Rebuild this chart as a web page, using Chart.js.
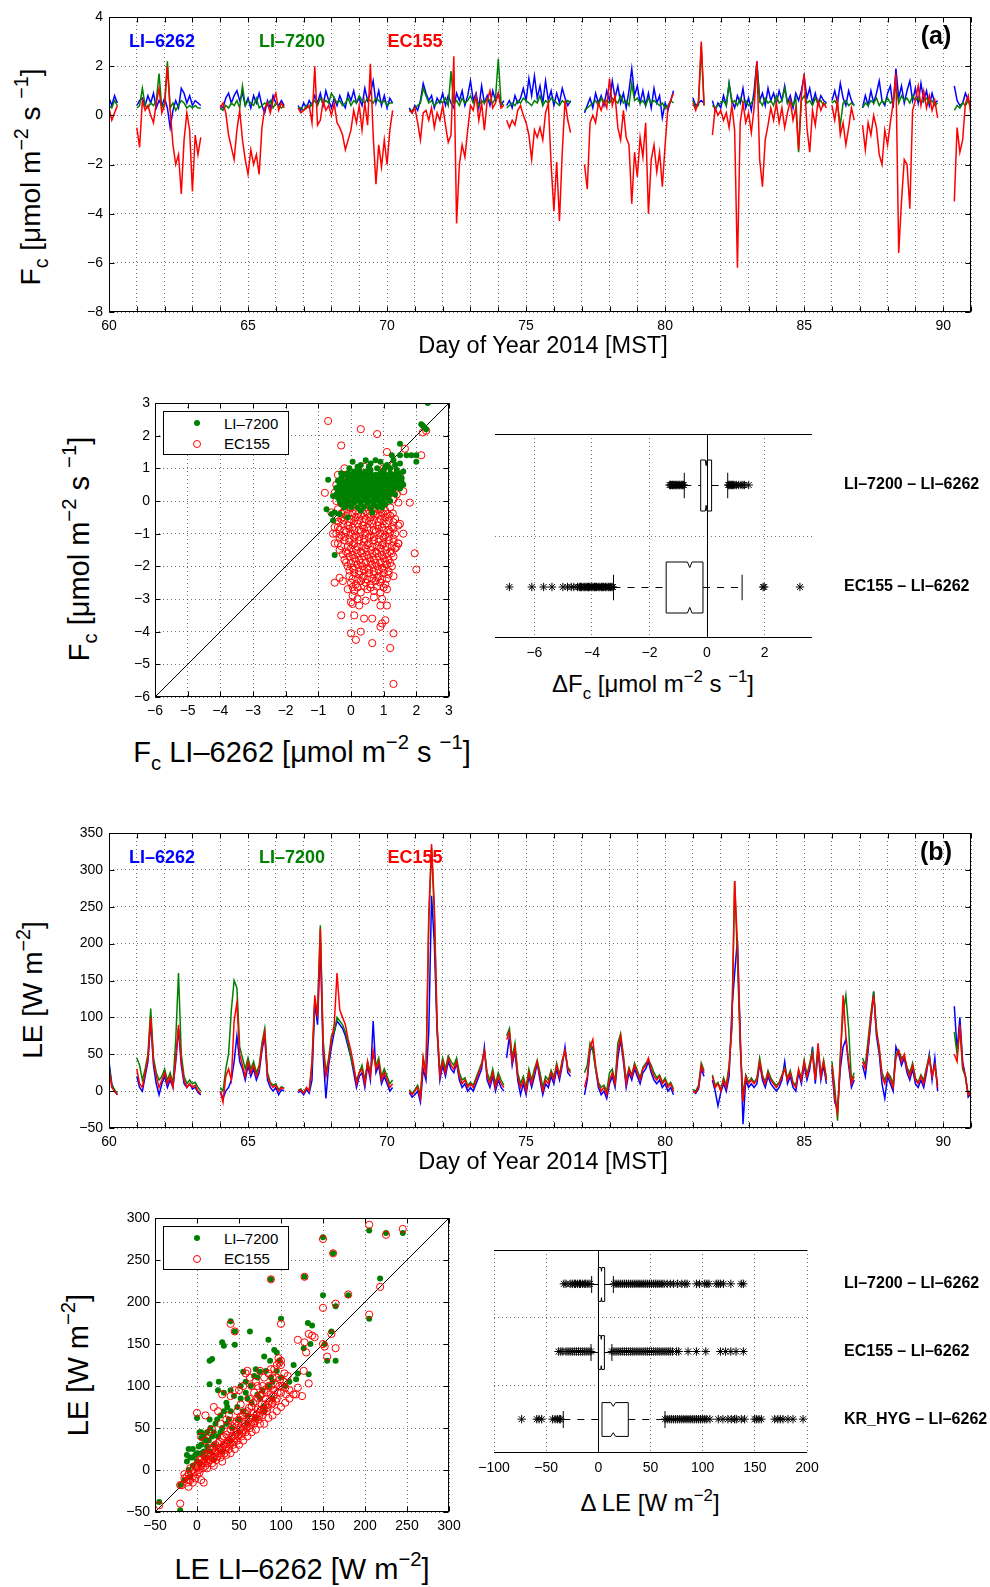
<!DOCTYPE html>
<html>
<head>
<meta charset="utf-8">
<title>Fc and LE instrument comparison</title>
<script src="https://cdn.jsdelivr.net/npm/chart.js@4.4.1/dist/chart.umd.min.js"></script>
<style>
  html, body { margin:0; padding:0; background:#fff; }
  body { position:relative; width:990px; height:1587px; overflow:hidden; font-family:"Liberation Sans", Arial, Helvetica, sans-serif; color:#000; }
  canvas { position:absolute; }
  .t { position:absolute; white-space:nowrap; line-height:1; }
  .c { transform:translate(-50%,-50%); }
  .r { transform:translate(-50%,-50%) rotate(-90deg); }
  .t sup { font-size:0.7em; vertical-align:0.62em; line-height:0; }
  .t sub { font-size:0.7em; vertical-align:-0.42em; line-height:0; }
  .leg { font-weight:bold; font-size:18px; }
  .tag { font-weight:bold; font-size:25px; }
  .lbox { position:absolute; border:1px solid #000; background:#fff; width:124px; height:42px; font-size:15px; }
  .dot { position:absolute; width:6px; height:6px; border-radius:50%; background:#008000; }
  .ring { position:absolute; width:6px; height:6px; border-radius:50%; border:1px solid #f00; }
</style>
</head>
<body>
<canvas id="fcSeries"></canvas>
<canvas id="fcScatter"></canvas>
<canvas id="fcBox"></canvas>
<canvas id="leSeries"></canvas>
<canvas id="leScatter"></canvas>
<canvas id="leBox"></canvas>

<!-- panel (a) texts -->
<div class="t c leg" style="left:162px;top:41px;color:#0000ff">LI–6262</div>
<div class="t c leg" style="left:292px;top:41px;color:#008000">LI–7200</div>
<div class="t c leg" style="left:415px;top:41px;color:#ff0000">EC155</div>
<div class="t c tag" style="left:936px;top:35px">(a)</div>
<div class="t r" style="left:31px;top:177px;font-size:28px">F<sub>c</sub> [μmol m<sup>−2</sup> s <sup>−1</sup>]</div>
<div class="t c" style="left:543px;top:346px;font-size:23.5px">Day of Year 2014 [MST]</div>

<div class="t r" style="left:79px;top:549px;font-size:29px">F<sub>c</sub> [μmol m<sup>−2</sup> s <sup>−1</sup>]</div>
<div class="t c" style="left:302px;top:752px;font-size:29px">F<sub>c</sub> LI–6262 [μmol m<sup>−2</sup> s <sup>−1</sup>]</div>
<div class="lbox" style="left:163px;top:411px">
  <span class="dot" style="left:30px;top:8px"></span><span class="t" style="left:60px;top:4px">LI–7200</span>
  <span class="ring" style="left:29px;top:28px"></span><span class="t" style="left:60px;top:24px">EC155</span>
</div>
<div class="t c" style="left:653px;top:684px;font-size:24px">ΔF<sub>c</sub> [μmol m<sup>−2</sup> s <sup>−1</sup>]</div>

<!-- panel (b) texts -->
<div class="t c leg" style="left:162px;top:857px;color:#0000ff">LI–6262</div>
<div class="t c leg" style="left:292px;top:857px;color:#008000">LI–7200</div>
<div class="t c leg" style="left:415px;top:857px;color:#ff0000">EC155</div>
<div class="t c tag" style="left:936px;top:851px">(b)</div>
<div class="t r" style="left:33px;top:990px;font-size:28px">LE [W m<sup>−2</sup>]</div>
<div class="t c" style="left:543px;top:1162px;font-size:23.5px">Day of Year 2014 [MST]</div>

<div class="t r" style="left:78px;top:1365px;font-size:29px">LE [W m<sup>−2</sup>]</div>
<div class="t c" style="left:302px;top:1569px;font-size:29px">LE LI–6262 [W m<sup>−2</sup>]</div>
<div class="lbox" style="left:163px;top:1226px">
  <span class="dot" style="left:30px;top:8px"></span><span class="t" style="left:60px;top:4px">LI–7200</span>
  <span class="ring" style="left:29px;top:28px"></span><span class="t" style="left:60px;top:24px">EC155</span>
</div>
<div class="t c" style="left:650px;top:1503px;font-size:24px">Δ LE [W m<sup>−2</sup>]</div>

<script>
/* ======= Time series data (samples every 0.1 day inside each data segment) ======= */
const SAMPLE_STEP = 0.1;
const segStart = [60.0, 61.0, 64.0, 66.8, 70.8, 74.3, 77.1, 81.0, 81.7, 86.0, 87.1, 90.4];
const dayTicks = [60,61,62,63,64,65,66,67,68,69,70,71,72,73,74,75,76,77,78,79,80,81,82,83,84,85,86,87,88,89,90,91];

// Fc [umol m-2 s-1]
const fcEC155 = [
  [0.3,-0.2,0.1,0.4],
  [-0.5,-1.3,0.6,0.2,0.4,0.0,-0.3,0.5,1.1,0.1,0.4,2.0,0.2,-1.2,-2.0,-1.6,-3.2,-1.0,0.1,-0.6,-3.1,-0.8,-1.6,-0.9],
  [0.3,0.5,0.1,-0.8,-1.3,-1.8,-0.6,0.2,-1.0,-1.8,-2.4,-1.4,-2.0,-1.6,-2.4,-0.5,0.3,0.5,0.1,0.6,0.9,0.2,0.5,0.3],
  [0.3,0.1,0.2,0.3,0.4,-0.3,2.0,-0.4,-0.2,0.6,0.2,0.4,0.0,0.5,-0.3,-0.5,-0.8,-1.4,-1.0,-0.6,0.2,-0.3,0.4,-0.6,0.5,-0.4,2.1,-0.8,-2.8,-1.2,-2.1,-1.0,-2.0,-0.6,0.2],
  [0.2,0.1,0.3,-0.3,-1.0,0.1,0.2,-0.2,0.3,-0.5,0.1,-0.2,0.4,-0.4,-1.1,-0.8,2.4,-4.4,-2.0,-1.2,-1.7,-0.6,0.4,0.2,0.8,-0.2,0.5,-0.6,0.6,1.0,0.3,0.5,0.9,0.3,0.4],
  [-0.2,-0.5,-0.2,-0.4,0.2,0.4,0.0,-0.3,-0.8,-1.8,-0.6,-0.9,-0.5,-1.0,0.1,0.5,-2.0,-3.9,-1.9,-4.3,-1.5,0.6,-0.2,-0.7],
  [-2.0,-3.0,-0.3,0.0,-0.3,0.5,0.2,0.6,0.3,1.5,0.4,0.8,-0.5,-1.0,0.2,-0.9,-1.2,-3.6,-1.5,-2.5,-0.9,-1.7,-0.3,-4.0,-1.8,-1.2,-2.3,-1.5,-2.9,-1.2,0.3,0.6,0.9],
  [0.5,0.2,0.6,3.0,0.4],
  [-0.8,0.3,0.0,0.2,-0.2,0.1,-0.5,0.4,-0.6,-6.2,-0.3,0.5,-0.3,0.1,-0.7,0.3,2.2,-1.8,-2.9,-1.0,-0.4,0.3,-0.2,0.5,-0.3,0.3,-0.5,0.1,0.6,-0.2,0.3,-1.4,0.8,1.7,-0.5,-1.5,0.2,-0.4,0.6,0.2,0.5,0.3],
  [0.4,-0.2,0.6,-0.8,-0.3,-1.2,-0.5,0.3,-0.2],
  [-0.4,-1.4,-0.3,-0.8,0.0,-0.5,-1.6,-2.0,-0.6,-1.2,-0.3,0.5,1.7,-5.6,-3.5,-1.8,-2.0,-3.8,0.2,0.6,1.2,0.4,1.0,0.3,0.8,0.2,0.6,-0.1],
  [-3.5,-0.5,-1.5,-1.0,0.5,0.8,0.0]
];
const fcLI6262 = [
  [0.7,0.4,0.8,0.5],
  [0.4,0.6,0.7,0.4,0.8,0.5,0.9,0.3,0.6,0.4,0.7,0.3,-0.5,0.2,0.6,0.3,1.1,0.9,0.5,0.8,0.4,0.6,0.5,0.4],
  [0.4,0.3,0.7,0.9,0.5,0.8,1.0,0.6,0.9,0.4,0.7,0.3,0.8,0.5,0.9,0.4,0.1,0.6,0.3,0.8,0.5,0.4,0.6,0.4],
  [0.4,0.2,0.5,0.3,0.6,0.4,0.8,0.5,0.9,0.4,1.0,0.6,0.3,0.7,0.4,0.8,0.5,0.3,0.9,0.6,1.0,0.5,0.7,0.4,1.1,0.6,0.9,1.4,0.5,1.0,0.4,0.8,0.3,0.7,0.5],
  [0.3,0.1,0.4,0.2,0.6,1.3,0.9,0.6,0.8,0.3,0.7,0.5,0.9,0.4,0.8,0.5,0.3,0.9,0.6,1.0,0.4,0.8,1.4,0.6,0.9,0.3,1.2,0.5,0.8,0.4,1.0,0.6,0.9,0.4,0.6],
  [0.4,0.6,0.3,0.8,0.5,0.7,1.1,0.6,1.5,0.8,1.6,0.7,1.2,0.5,1.4,0.6,1.0,0.4,0.9,0.5,1.1,0.7,0.4,0.6],
  [0.1,0.4,0.7,0.3,0.9,0.5,0.8,0.4,1.0,0.6,1.4,0.7,1.2,0.5,0.9,0.3,1.0,1.9,0.8,1.2,0.5,1.0,0.4,0.9,0.3,1.1,0.5,0.8,-0.1,0.5,0.2,0.6,1.0],
  [0.7,0.4,0.5,0.6,0.5],
  [0.6,0.2,0.5,0.3,0.8,0.4,1.3,0.6,0.3,0.8,0.5,1.1,0.3,0.7,0.2,1.0,2.2,0.6,0.9,0.4,1.1,0.6,0.9,0.5,1.0,0.6,1.2,0.5,0.8,0.3,0.9,0.6,1.0,1.6,0.7,1.1,0.5,0.9,0.4,0.8,0.6,0.5],
  [0.6,1.0,0.5,1.3,0.7,0.4,1.0,0.6,0.4],
  [0.3,0.8,0.4,1.0,0.5,0.9,1.4,0.6,0.4,0.9,1.2,0.3,1.9,0.7,1.2,0.5,1.0,1.4,0.6,1.1,0.5,1.3,0.6,1.0,0.4,0.9,0.5,0.6],
  [1.2,0.6,0.4,0.5,0.9,0.6,0.5]
];
const fcLI7200 = [
  [0.4,0.3,0.6,0.4],
  [0.3,0.4,1.1,0.4,0.3,0.5,0.4,0.6,1.7,0.3,0.5,2.2,0.3,0.5,0.2,0.4,0.6,0.5,0.3,0.4,0.3,0.4,0.3,0.3],
  [0.3,0.2,0.4,0.3,0.5,0.4,0.6,0.3,1.2,0.4,0.6,0.5,0.4,0.7,0.3,0.4,0.5,0.4,0.6,0.3,0.5,0.4,0.3,0.4],
  [0.3,0.3,0.2,0.4,0.3,0.5,0.6,0.4,0.7,0.5,0.6,0.5,0.9,0.7,0.5,0.6,0.4,0.5,0.7,0.4,0.6,0.5,0.8,0.6,0.5,0.7,0.6,0.5,0.7,0.6,0.5,0.6,0.4,0.5,0.5],
  [0.2,0.2,0.3,0.4,0.5,1.1,0.8,0.5,0.6,0.4,0.5,0.6,0.5,0.7,0.4,1.8,0.5,0.6,0.4,0.7,0.5,0.6,0.8,0.5,0.7,0.4,0.6,0.5,0.7,0.6,0.5,0.7,2.3,0.5,0.4],
  [0.3,0.4,0.5,0.4,0.6,0.5,0.7,0.6,0.5,0.4,0.6,0.5,0.8,0.4,0.6,0.5,0.7,0.6,0.5,0.4,0.6,0.5,0.6,0.5],
  [0.2,0.3,0.4,0.5,0.6,0.4,0.7,0.5,0.6,0.5,0.7,0.6,0.5,0.8,0.5,0.6,0.4,1.3,0.6,0.7,0.5,0.6,0.4,0.7,0.5,0.6,0.5,0.4,0.5,0.3,0.4,0.6,0.5],
  [0.6,0.3,0.4,2.8,0.4],
  [0.4,0.3,0.4,0.5,0.6,0.4,1.3,0.5,0.6,0.4,0.7,0.5,0.6,0.4,0.5,0.7,2.1,0.6,0.4,0.7,0.5,0.6,0.4,0.8,0.5,0.6,1.1,0.5,0.6,0.4,0.7,-1.5,0.6,0.8,0.5,0.6,0.4,0.7,0.5,0.6,0.4,0.5],
  [0.5,0.6,0.4,-0.4,0.5,0.6,0.4,0.5,0.4],
  [0.3,0.5,0.4,0.6,0.5,0.7,0.4,0.6,0.5,0.7,0.5,0.6,1.2,0.5,0.8,0.6,0.7,0.5,0.8,0.6,0.7,0.5,0.6,0.7,0.5,0.6,0.4,0.5],
  [0.2,0.4,0.3,0.5,0.4,0.6,0.3]
];

// LE [W m-2]
const leEC155 = [
  [30,5,0,-5],
  [30,10,5,25,45,100,40,20,5,15,25,10,20,5,45,90,40,15,5,10,5,8,0,-3],
  [0,-15,20,30,15,95,120,50,35,20,40,25,35,20,30,60,80,20,10,5,8,0,5,3],
  [0,2,-3,5,0,40,130,100,220,60,20,40,70,90,160,110,100,90,70,55,35,10,25,30,10,40,20,55,30,40,15,25,15,5,10],
  [0,-5,0,5,-10,45,20,240,335,250,90,20,40,25,45,35,30,40,20,10,15,5,10,5,15,25,35,55,20,10,25,5,20,10,5],
  [70,80,40,60,20,5,15,0,25,10,25,40,20,0,15,10,25,15,35,20,40,55,30,25],
  [5,20,60,70,35,10,0,5,-5,15,25,10,55,75,45,10,30,20,35,25,15,30,35,45,30,20,15,20,10,15,5,10,0],
  [0,-2,5,35,25],
  [20,5,10,0,15,5,30,90,285,200,70,-15,20,10,15,10,15,40,20,10,25,15,10,5,10,20,30,15,25,10,5,30,15,40,20,35,50,15,65,20,40,15],
  [35,-10,-30,40,130,75,40,10,20],
  [40,30,60,100,130,80,60,20,10,25,15,5,45,55,40,50,30,20,35,15,10,20,10,30,45,20,35,5],
  [50,40,90,35,20,-5,0]
];
const leLI6262 = [
  [40,10,0,-5],
  [20,5,0,20,40,95,35,10,-5,10,20,5,15,5,40,85,35,10,5,10,3,5,-2,-5],
  [0,-10,0,5,15,40,75,40,30,15,35,20,30,15,25,55,75,15,5,0,5,-5,2,0],
  [-2,0,-5,2,-3,15,120,90,200,50,-10,35,60,80,95,90,85,75,60,45,25,5,20,25,5,35,15,95,25,35,10,20,10,0,5],
  [-2,-8,-5,0,-15,30,15,80,265,200,80,15,35,20,40,30,25,38,15,5,10,0,5,0,10,20,30,60,15,5,20,0,15,5,0],
  [45,75,35,55,15,-5,10,-5,20,5,20,38,15,-5,10,5,20,10,30,15,35,60,25,20],
  [-5,15,55,60,30,5,-5,0,-10,10,20,5,45,70,40,5,25,15,30,20,10,25,30,40,25,15,10,15,5,10,0,5,-5],
  [0,-3,3,30,20],
  [15,0,-20,-2,10,0,20,110,160,205,80,-45,15,5,10,5,10,38,15,5,20,10,5,0,5,15,40,10,20,5,0,25,10,35,15,30,60,10,55,15,35,10],
  [30,-15,-25,30,60,70,35,5,15],
  [35,20,55,95,135,75,50,10,-10,20,10,0,60,50,35,45,25,15,30,10,5,15,5,25,50,15,45,0],
  [115,55,100,40,20,-8,-3]
];
const leLI7200 = [
  [35,8,2,-3],
  [45,35,15,30,50,112,45,25,15,20,30,15,25,10,70,160,50,20,10,15,10,12,5,0],
  [5,0,30,50,110,150,140,60,45,30,45,30,40,25,35,65,85,25,12,8,10,2,6,4],
  [1,3,-2,4,1,35,120,110,225,70,25,45,75,80,100,95,90,80,65,45,30,15,25,35,15,40,25,50,35,45,20,30,20,10,15],
  [2,-3,2,8,-5,45,25,230,330,240,85,25,45,30,48,40,35,45,25,15,18,8,12,8,18,28,38,55,25,15,30,10,25,15,8],
  [75,85,45,65,25,10,20,5,30,15,30,42,25,5,20,15,28,18,38,22,42,55,32,28],
  [25,35,65,55,30,12,5,8,0,25,30,12,65,78,48,15,32,22,38,28,18,32,38,42,35,25,18,22,12,18,8,12,3],
  [2,0,8,38,28],
  [22,8,12,2,18,8,35,85,285,180,60,-5,22,12,18,12,18,45,22,12,28,18,12,8,12,22,32,18,28,12,8,28,18,42,22,38,55,18,60,22,42,18],
  [40,5,-40,50,105,130,85,15,25],
  [45,35,70,105,135,85,55,25,15,25,20,10,50,55,45,48,32,25,38,18,12,22,15,32,48,22,35,8],
  [80,50,85,30,20,-5,2]
];

/* ======= Scatter data: [LI-6262, other] ======= */
const fcScatterTicks = [-6,-5,-4,-3,-2,-1,0,1,2,3];
const fcScatter7200 = [
  [0.3,1.1],[0.6,1.15],[0.9,1.2],[1.1,1.1],[0.75,1.25],[0.45,1.25],[1.3,1.25],[1.25,1.4],
  [-0.05,1.0],[0.2,1.05],[0.55,1.05],[1.05,1.05],[1.35,1.1],
  [-0.1,0.85],[0.1,0.9],[0.25,0.95],[0.45,0.9],[0.6,0.95],[0.8,1.0],[1.0,0.95],[1.2,1.0],[1.4,0.95],[-0.3,0.85],
  [-0.2,0.8],[0.0,0.82],[0.15,0.8],[0.3,0.85],[0.45,0.8],[0.6,0.83],[0.75,0.8],[0.9,0.85],[1.05,0.8],[1.2,0.85],[1.35,0.82],[1.5,0.85],
  [-0.3,0.7],[-0.1,0.7],[0.05,0.75],[0.2,0.7],[0.35,0.75],[0.5,0.7],[0.65,0.75],[0.8,0.7],[0.95,0.75],[1.1,0.7],[1.25,0.75],[1.4,0.7],[1.55,0.7],[1.6,0.5],
  [-0.4,0.62],[-0.25,0.6],[-0.1,0.62],[0.05,0.6],[0.2,0.62],[0.35,0.6],[0.5,0.62],[0.65,0.6],[0.8,0.62],[0.95,0.6],[1.1,0.62],[1.25,0.6],[1.4,0.62],[1.55,0.58],
  [-0.35,0.5],[-0.2,0.55],[-0.05,0.5],[0.1,0.55],[0.25,0.5],[0.4,0.55],[0.55,0.5],[0.7,0.55],[0.85,0.5],[1.0,0.55],[1.15,0.5],[1.3,0.55],[1.45,0.45],
  [-0.45,0.4],[-0.3,0.42],[-0.15,0.4],[0.0,0.42],[0.15,0.4],[0.3,0.42],[0.45,0.4],[0.6,0.42],[0.75,0.4],[0.9,0.42],[1.05,0.4],[1.2,0.42],[1.35,0.4],[1.5,0.38],
  [-0.4,0.3],[-0.25,0.3],[-0.1,0.35],[0.05,0.3],[0.2,0.35],[0.35,0.3],[0.5,0.35],[0.65,0.3],[0.8,0.35],[0.95,0.3],[1.1,0.35],[1.25,0.3],
  [-0.45,0.2],[-0.3,0.22],[-0.15,0.2],[0.0,0.22],[0.15,0.2],[0.3,0.22],[0.45,0.2],[0.6,0.22],[0.75,0.2],[0.9,0.22],[1.05,0.2],[1.2,0.22],[1.35,0.2],
  [-0.4,0.1],[-0.25,0.15],[-0.1,0.1],[0.05,0.15],[0.2,0.1],[0.35,0.15],[0.5,0.1],[0.65,0.15],[0.8,0.1],[0.95,0.15],[1.1,0.1],[1.2,0.0],
  [-0.35,0.0],[-0.2,0.02],[-0.05,0.0],[0.1,0.02],[0.25,0.0],[0.4,0.02],[0.55,0.0],[0.7,0.02],[0.85,0.0],[1.0,0.02],[1.15,0.08],
  [-0.3,-0.1],[-0.1,-0.1],[0.1,-0.05],[0.3,-0.1],[0.5,-0.05],[0.7,-0.1],[0.9,-0.05],[1.05,-0.1],
  [-0.2,-0.2],[0.0,-0.18],[0.2,-0.2],[0.4,-0.18],[0.6,-0.2],[0.8,-0.18],[0.95,-0.2],
  [2.35,3.0],[2.15,2.35],[2.2,2.3],[2.3,2.2],[2.25,2.25],[1.5,1.75],[1.7,1.4],[1.85,1.4],[2.0,1.4],[2.0,1.2],
  [0.05,1.2],[1.5,1.4],[-0.7,0.65],[-0.75,-0.25],[-0.55,-0.6],[-0.5,-1.65],[0.3,-0.3],[0.65,-0.35],[0.9,-0.15],
  [-0.35,-0.4],[-0.1,-0.5],[-0.5,-0.35],[-0.6,-0.4],[-0.55,0.15],[1.6,0.9],[1.5,1.15]
];
const fcScatterEC155 = [
  [-0.2,1.0],[0.4,1.05],[1.0,1.0],[1.3,1.1],[-0.4,0.8],[1.5,0.75],[-0.45,0.5],[1.5,0.45],[1.6,0.3],[-0.5,0.25],[1.4,0.2],
  [-0.45,0.0],[-0.3,-0.05],[1.3,0.05],[1.45,-0.05],[1.1,1.5],[1.65,1.6],[-0.2,0.8],
  [-0.4,-0.25],[-0.2,-0.3],[0.0,-0.2],[0.15,-0.3],[0.3,-0.25],[0.45,-0.3],[0.6,-0.2],[0.75,-0.3],[0.9,-0.25],[1.05,-0.3],[1.2,-0.2],
  [-0.3,-0.38],[-0.1,-0.4],[0.05,-0.38],[0.22,-0.4],[0.38,-0.38],[0.52,-0.4],[0.68,-0.38],[0.82,-0.4],[0.98,-0.38],[1.12,-0.4],[1.28,-0.38],
  [-0.45,-0.5],[-0.3,-0.55],[-0.15,-0.45],[0.0,-0.55],[0.15,-0.5],[0.3,-0.45],[0.45,-0.55],[0.6,-0.5],[0.75,-0.45],[0.9,-0.55],[1.05,-0.5],[1.2,-0.45],[1.35,-0.55],
  [-0.38,-0.63],[-0.22,-0.6],[-0.05,-0.65],[0.1,-0.62],[0.25,-0.6],[0.4,-0.65],[0.55,-0.62],[0.7,-0.6],[0.85,-0.65],[1.0,-0.62],[1.15,-0.6],[1.3,-0.65],
  [-0.4,-0.8],[-0.25,-0.7],[-0.1,-0.75],[0.05,-0.8],[0.2,-0.7],[0.35,-0.75],[0.5,-0.8],[0.65,-0.7],[0.8,-0.75],[0.95,-0.8],[1.1,-0.7],[1.25,-0.8],[1.45,-0.75],
  [-0.35,-0.88],[-0.2,-0.9],[-0.05,-0.85],[0.1,-0.9],[0.25,-0.88],[0.4,-0.85],[0.55,-0.9],[0.7,-0.88],[0.85,-0.85],[1.0,-0.9],[1.15,-0.88],[1.3,-0.85],
  [-0.45,-1.0],[-0.3,-1.05],[-0.15,-0.95],[0.0,-1.0],[0.15,-1.05],[0.3,-0.95],[0.45,-1.0],[0.6,-1.05],[0.75,-0.95],[0.9,-1.0],[1.05,-1.05],[1.2,-0.95],[1.35,-1.0],
  [-0.35,-1.13],[-0.2,-1.1],[-0.05,-1.15],[0.1,-1.12],[0.25,-1.1],[0.4,-1.15],[0.55,-1.12],[0.7,-1.1],[0.85,-1.15],[1.0,-1.12],[1.15,-1.1],[1.3,-1.15],
  [-0.4,-1.3],[-0.2,-1.2],[-0.05,-1.25],[0.1,-1.3],[0.25,-1.2],[0.4,-1.25],[0.55,-1.3],[0.7,-1.2],[0.85,-1.25],[1.0,-1.3],[1.15,-1.2],[1.3,-1.25],[1.45,-1.3],
  [-0.3,-1.38],[-0.1,-1.4],[0.05,-1.35],[0.2,-1.4],[0.35,-1.38],[0.5,-1.35],[0.65,-1.4],[0.8,-1.38],[0.95,-1.35],[1.1,-1.4],[1.25,-1.38],[1.4,-1.4],
  [-0.35,-1.5],[-0.15,-1.55],[0.0,-1.45],[0.15,-1.5],[0.3,-1.55],[0.45,-1.45],[0.6,-1.5],[0.75,-1.55],[0.9,-1.45],[1.05,-1.5],[1.2,-1.55],[1.35,-1.45],
  [-0.25,-1.63],[-0.1,-1.6],[0.05,-1.65],[0.2,-1.62],[0.35,-1.6],[0.5,-1.65],[0.65,-1.62],[0.8,-1.6],[0.95,-1.65],[1.1,-1.62],[1.25,-1.6],
  [-0.2,-1.8],[-0.05,-1.7],[0.1,-1.75],[0.25,-1.8],[0.4,-1.7],[0.55,-1.75],[0.7,-1.8],[0.85,-1.7],[1.0,-1.75],[1.15,-1.8],[1.3,-1.7],
  [-0.15,-1.88],[0.0,-1.9],[0.15,-1.85],[0.3,-1.9],[0.45,-1.88],[0.6,-1.85],[0.75,-1.9],[0.9,-1.88],[1.05,-1.85],[1.2,-1.9],
  [-0.1,-2.0],[0.05,-2.05],[0.2,-1.95],[0.35,-2.0],[0.5,-2.05],[0.65,-1.95],[0.8,-2.0],[0.95,-2.05],[1.1,-1.95],[1.25,-2.0],
  [-0.05,-2.13],[0.1,-2.1],[0.25,-2.15],[0.4,-2.12],[0.55,-2.1],[0.7,-2.15],[0.85,-2.12],[1.0,-2.1],[1.15,-2.15],
  [-0.05,-2.3],[0.1,-2.2],[0.25,-2.25],[0.4,-2.3],[0.55,-2.2],[0.7,-2.25],[0.85,-2.3],[1.0,-2.2],[1.15,-2.25],
  [0.05,-2.38],[0.2,-2.4],[0.35,-2.35],[0.5,-2.4],[0.65,-2.38],[0.8,-2.35],[0.95,-2.4],[1.1,-2.38],
  [0.0,-2.5],[0.15,-2.55],[0.3,-2.45],[0.45,-2.5],[0.6,-2.55],[0.75,-2.45],[0.9,-2.5],[1.05,-2.55],
  [0.05,-2.63],[0.2,-2.65],[0.4,-2.6],[0.6,-2.65],[0.8,-2.62],[1.0,-2.65],
  [0.1,-2.75],[0.3,-2.8],[0.5,-2.7],[0.7,-2.75],[0.9,-2.8],[1.1,-2.7],[-0.1,-2.7],[0.05,-2.9],[0.25,-3.2],
  [0.2,-3.0],[0.45,-3.05],[0.7,-2.95],[0.95,-3.0],
  [-0.7,2.45],[0.3,2.2],[0.8,2.05],[-0.3,1.7],[2.2,2.1],[2.3,2.15],[2.15,1.4],[1.8,-0.05],[-0.8,0.25],
  [-0.5,-0.8],[-0.5,-1.3],[-0.55,-1.0],[-0.5,-2.5],[1.95,-1.6],[2.0,-2.1],[1.3,-2.3],[1.5,-0.7],[1.45,-1.3],[1.6,-1.0],[-0.6,-0.35],
  [-0.3,-3.5],[0.1,-3.5],[0.4,-3.6],[0.65,-3.6],[0.95,-3.75],[1.05,-3.65],[1.3,-4.05],[0.0,-4.05],[0.3,-4.0],[0.15,-4.25],
  [0.65,-4.35],[1.2,-4.5],[1.3,-5.6],[0.9,-3.85],[0.9,-3.2],[1.1,-3.2],[-0.35,-2.35],[-0.25,-2.45],[0.0,-3.1],[0.05,-3.15]
];

const leScatterTicks = [-50,0,50,100,150,200,250,300];
const leScatter7200 = [
  [-45,-38],[-20,-48],[-20,-18],[-15,-12],[-10,0],[-8,-8],[-5,5],[-5,15],[-10,25],[-12,18],[-5,25],[0,10],[0,62],[3,8],
  [5,20],[5,45],[5,38],[8,40],[10,35],[10,15],[12,28],[15,130],[18,132],[15,102],[26,105],[15,60],[15,22],[18,40],
  [20,30],[22,55],[25,40],[25,95],[28,45],[30,50],[32,148],[30,152],[32,92],[35,55],[35,80],[38,60],[40,177],[40,95],
  [40,70],[42,50],[45,165],[45,149],[48,75],[50,60],[52,85],[55,117],[55,70],[58,105],[60,85],[60,65],[63,165],[65,80],
  [68,112],[70,120],[72,90],[75,117],[75,85],[78,95],[80,135],[80,70],[85,155],[85,100],[87,130],[88,227],[90,105],
  [92,143],[95,140],[98,130],[100,180],[100,110],[105,100],[110,105],[115,125],[118,108],[120,115],[127,145],[128,230],
  [132,175],[133,114],[135,150],[137,172],[150,277],[150,208],[152,150],[155,130],[160,165],[162,258],[165,195],[165,130],
  [180,208],[205,285],[205,180],[218,228],[225,282],[245,282],[20,12],[30,22],[40,35],[50,45],[60,55],[70,62],[80,75],[90,85],
  [-2,18],[2,28],[5,30],[8,22],[12,45],[14,35],[16,50],[20,45],[24,60],[28,65],[32,70],[36,75],[44,88],[52,100],[58,92],
  [64,100],[72,110],[82,118],[88,110],[95,118],[0,20],[3,45],[-8,15],[-12,10]
];
const leScatterEC155 = [
  [-18,-18],[-15,-10],[-12,-15],[-10,-5],[-8,-12],[-5,0],[-5,-8],[-2,5],[0,-5],[0,3],[2,8],[3,-3],[5,5],[5,12],[7,2],
  [8,10],[10,15],[10,5],[12,20],[13,8],[15,12],[15,25],[17,18],[18,8],[20,15],[20,28],[22,22],[23,12],[25,20],[25,32],
  [27,26],[28,15],[30,24],[30,38],[32,30],[33,20],[35,28],[35,42],[37,35],[38,25],[40,33],[40,48],[42,40],[43,30],
  [45,38],[45,55],[47,45],[48,35],[50,42],[50,60],[52,50],[53,40],[55,48],[55,65],[57,55],[58,45],[60,52],[60,70],
  [62,62],[63,50],[65,57],[65,75],[67,68],[68,55],[70,62],[70,82],[72,72],[73,60],[75,68],[75,88],[77,78],[78,65],
  [80,72],[80,95],[82,85],[83,70],[85,78],[85,100],[88,90],[90,80],[92,95],[95,85],[95,110],[98,100],[100,92],[100,125],
  [103,105],[105,98],[108,112],[110,95],
  [-15,-5],[-12,-8],[-10,-12],[-8,2],[-3,-3],[-2,-10],[2,0],[3,12],[6,8],[8,18],[11,10],[12,2],[14,18],[16,12],[18,25],
  [19,14],[21,20],[22,30],[24,16],[26,24],[27,34],[29,20],[31,28],[32,40],[34,24],[36,32],[36,46],[39,30],[41,38],[42,52],
  [44,34],[46,42],[47,58],[49,40],[51,48],[52,64],[54,44],[56,52],[57,68],[59,50],[61,58],[62,74],[64,54],[66,62],[67,80],
  [69,58],[71,66],[72,86],[74,64],[76,72],[77,90],[79,70],[81,78],[83,92],[84,74],[86,82],[88,100],[89,78],[91,88],[93,102],
  [94,82],[96,92],[99,108],[102,100],[104,115],[106,90],
  [0,68],[5,40],[10,35],[15,45],[20,75],[10,65],[25,70],[30,90],[40,88],[45,95],[50,95],[55,100],[60,118],[58,115],
  [63,110],[65,100],[70,105],[75,118],[80,110],[85,115],[88,120],[90,110],[92,120],[95,125],[97,133],[100,130],[98,128],
  [42,58],[38,65],[18,48],[28,55],[35,60],[48,70],[52,78],[62,85],[68,92],[72,100],[78,100],
  [20,5],[30,10],[40,20],[50,30],[60,40],[70,48],[80,55],[90,65],[100,75],[110,85],[-5,-15],[-10,-20],[5,-12],[8,-15],
  [35,18],[45,25],[55,35],[65,45],[75,55],[85,62],[95,70],[105,80],[115,90],
  [-45,-42],[-20,-40],[-20,-18],[205,292],[225,280],[245,287],[150,275],[162,258],[128,230],[88,227],[218,218],[150,193],
  [180,209],[165,198],[205,185],[40,174],[45,165],[100,174],[133,162],[137,160],[140,158],[120,155],[128,152],[130,140],
  [152,147],[160,162],[165,145],[155,135],[133,103],[127,118],[120,98],[125,88],[118,90],[150,150]
];

/* ======= Box plot statistics ======= */
const fcBoxTicks = [-6,-4,-2,0,2];
const fcBoxNames = ['LI–7200 – LI–6262', 'EC155 – LI–6262'];
const fcBoxQ1 = [-0.22, -1.42];
const fcBoxMed = [-0.03, -0.6];
const fcBoxQ3 = [0.16, -0.14];
const fcNotchLo = [-0.06, -0.68];
const fcNotchHi = [0.0, -0.52];
const fcWhiskLo = [-0.79, -3.25];
const fcWhiskHi = [0.72, 1.22];
const fcOutliers = [
  [-1.3,-1.27,-1.24,-1.2,-1.17,-1.14,-1.1,-1.07,-1.04,-1.0,-0.97,-0.94,-0.9,-0.87,-0.84,-0.81,
   0.74,0.77,0.8,0.83,0.86,0.89,0.93,0.97,1.02,1.1,1.18,1.25,1.3,1.45],
  [-6.87,-6.09,-5.68,-5.39,-5.01,-4.85,-4.72,-4.63,-4.5,-4.44,-4.4,-4.36,-4.31,-4.27,-4.24,-4.2,-4.15,-4.12,-4.08,
   -4.03,-4.0,-3.96,-3.91,-3.88,-3.84,-3.79,-3.76,-3.72,-3.67,-3.64,-3.6,-3.55,-3.52,-3.48,-3.43,-3.4,-3.36,-3.31,-3.27,
   1.95,1.99,3.23]
];

const leBoxTicks = [-100,-50,0,50,100,150,200];
const leBoxNames = ['LI–7200 – LI–6262', 'EC155 – LI–6262', 'KR_HYG – LI–6262'];
const leBoxQ1 = [0, 0, 3.5];
const leBoxMed = [3, 2.8, 14.3];
const leBoxQ3 = [6.1, 5.8, 28.7];
const leNotchLo = [2.6, 2.4, 12];
const leNotchHi = [3.4, 3.2, 16.5];
const leWhiskLo = [-6.4, -7, -33.6];
const leWhiskHi = [14.4, 13, 63.9];
const leOutliers = [
  [-33,-31,-27,-25,-23,-22,-20,-18,-17,-15,-13,-12,-10,-8,
   15,17,19,21,23,25,27,29,31,33,35,37,39,41,43,45,47,49,51,53,55,57,59,61,63,66,69,72,
   76,80,83,85,94,97,102,104,106,113,115,117,120,127,137,139],
  [-38,-36,-34,-31,-29,-27,-25,-23,-21,-19,-17,-15,-13,-11,-9,-7,
   13,15,17,19,21,23,25,27,29,31,33,35,37,39,41,43,45,47,49,51,53,55,57,59,61,63,65,67,69,71,
   75,77,86,94,103,117,122,127,132,139],
  [-73.5,-59,-56.8,-54.3,-43.8,-41.5,-39.3,-37.4,-36.1,
   64,66,68,70,72,74,76,78,80,82,84,86,88,90,92,94,96,98,100,102,104,107,
   115,119.4,124.2,127.4,130.6,132.2,137,140.2,149.8,151.4,154,156.2,169,172,174.4,177,181.8,186.6,196.2]
];

/* ======= Style ======= */
const BLUE = '#0000ff', GREEN = '#008000', RED = '#ff0000';
const GRID = 'rgba(0,0,0,0.55)';
Chart.defaults.font.family = '"Liberation Sans", Arial, Helvetica, sans-serif';
Chart.defaults.font.size = 14;
Chart.defaults.color = '#000';

/* ======= Utils ======= */
function buildSeries(segs) {
  const pts = [];
  segs.forEach((vals, k) => {
    vals.forEach((v, i) => pts.push({ x: +(segStart[k] + i * SAMPLE_STEP).toFixed(2), y: v }));
    pts.push({ x: +(segStart[k] + vals.length * SAMPLE_STEP).toFixed(2), y: null });
  });
  return pts;
}
const toXY = arr => arr.map(p => ({ x: p[0], y: p[1] }));
const minus = v => String(v).replace('-', '\u2212');
const fixTicks = list => s => { s.ticks = list.map(v => ({ value: v })); };

// places canvas so that the plot area lands on area {l,t,r,b}
function mount(id, area, m, config) {
  const cv = document.getElementById(id);
  const w = area.r - area.l + m.l + m.r, h = area.b - area.t + m.t + m.b;
  cv.width = w; cv.height = h;
  cv.style.width = w + 'px'; cv.style.height = h + 'px';
  cv.style.left = (area.l - m.l) + 'px'; cv.style.top = (area.t - m.t) + 'px';
  Object.assign(config.options, { responsive: false, devicePixelRatio: 1, animation: false });
  return new Chart(cv.getContext('2d'), config);
}

/* ======= Plugins: MATLAB-like frame and box plots ======= */
const framePlugin = {
  id: 'frame',
  afterDatasetsDraw(chart, args, opts) {
    const { ctx, chartArea: a, scales: { x, y } } = chart;
    const seg = (x1, y1, x2, y2) => { ctx.beginPath(); ctx.moveTo(x1, y1); ctx.lineTo(x2, y2); ctx.stroke(); };
    const L = Math.round(a.left) + 0.5, R = Math.round(a.right) - 0.5;
    const T = Math.round(a.top) + 0.5, B = Math.round(a.bottom) - 0.5;
    ctx.save();
    ctx.strokeStyle = '#000'; ctx.lineWidth = 1;
    if (opts.mode === 'box') {
      ctx.strokeRect(L, T, R - L, B - T);
      const tl = 5;
      x.ticks.forEach(t => { const p = Math.round(x.getPixelForValue(t.value)) + 0.5; seg(p, B, p, B - tl); seg(p, T, p, T + tl); });
      y.ticks.forEach(t => { const p = Math.round(y.getPixelForValue(t.value)) + 0.5; seg(L, p, L + tl, p); seg(R, p, R - tl, p); });
    } else {
      seg(L - 0.5, T, R + 0.5, T); seg(L - 0.5, B, R + 0.5, B);
      const p0 = Math.round(x.getPixelForValue(0)) + 0.5;
      seg(p0, T, p0, B);
    }
    ctx.restore();
  }
};

const boxPlugin = {
  id: 'boxes',
  afterDatasetsDraw(chart, args, opts) {
    const { ctx, scales: { x, y } } = chart;
    const s = opts.stats;
    const px = v => x.getPixelForValue(v);
    const seg = (x1, y1, x2, y2) => { ctx.beginPath(); ctx.moveTo(x1, y1); ctx.lineTo(x2, y2); ctx.stroke(); };
    ctx.save();
    ctx.strokeStyle = '#000'; ctx.lineWidth = 1;
    s.q1.forEach((q1, i) => {
      const row = i + 1;
      const yc = Math.round(y.getPixelForValue(row)) + 0.5;
      const hh = Math.abs(y.getPixelForValue(row + 0.25) - y.getPixelForValue(row));
      const cap = hh / 2, nh = hh * 0.78;
      // whiskers
      ctx.setLineDash([7, 7]);
      seg(px(s.lo[i]), yc, px(q1), yc);
      seg(px(s.q3[i]), yc, px(s.hi[i]), yc);
      ctx.setLineDash([]);
      seg(px(s.lo[i]), yc - cap, px(s.lo[i]), yc + cap);
      seg(px(s.hi[i]), yc - cap, px(s.hi[i]), yc + cap);
      // notched box
      ctx.beginPath();
      ctx.moveTo(px(q1), yc - hh);
      ctx.lineTo(px(s.nlo[i]), yc - hh);
      ctx.lineTo(px(s.med[i]), yc - nh);
      ctx.lineTo(px(s.nhi[i]), yc - hh);
      ctx.lineTo(px(s.q3[i]), yc - hh);
      ctx.lineTo(px(s.q3[i]), yc + hh);
      ctx.lineTo(px(s.nhi[i]), yc + hh);
      ctx.lineTo(px(s.med[i]), yc + nh);
      ctx.lineTo(px(s.nlo[i]), yc + hh);
      ctx.lineTo(px(q1), yc + hh);
      ctx.closePath();
      ctx.stroke();
    });
    ctx.restore();
  }
};

/* ======= Chart builders ======= */
function seriesChart(id, top, red, blue, green, yMin, yMax, yTicks) {
  const area = { l: 109, t: top, r: 971, b: top + 295 };
  const line = (data, color, order) => ({ data, borderColor: color, borderWidth: 1.5, pointRadius: 0, spanGaps: false, tension: 0, order });
  return mount(id, area, { l: 45, t: 18, r: 12, b: 30 }, {
    type: 'line',
    data: { datasets: [line(buildSeries(red), RED, 0), line(buildSeries(green), GREEN, 1), line(buildSeries(blue), BLUE, 2)] },
    plugins: [framePlugin],
    options: {
      layout: { padding: { top: 18, right: 12, left: 0, bottom: 0 } },
      plugins: { legend: { display: false }, tooltip: { enabled: false }, frame: { mode: 'box' } },
      scales: {
        x: {
          type: 'linear', min: 60, max: 91,
          afterBuildTicks: fixTicks(dayTicks),
          afterFit: s => { s.height = 30; },
          ticks: { autoSkip: false, maxRotation: 0, padding: 6, callback: v => (v % 5 === 0 && v < 91) ? v : '' },
          grid: { color: GRID, drawTicks: false }, border: { display: false, dash: [1, 3] }
        },
        y: {
          min: yMin, max: yMax,
          afterBuildTicks: fixTicks(yTicks),
          afterFit: s => { s.width = 45; },
          ticks: { padding: 6, callback: minus },
          grid: { color: GRID, drawTicks: false }, border: { display: false, dash: [1, 3] }
        }
      }
    }
  });
}

function scatterChart(id, top, ticks, pts7200, ptsEC, ecOnTop) {
  const area = { l: 155, t: top, r: 449, b: top + 294 };
  const lo = ticks[0], hi = ticks[ticks.length - 1];
  return mount(id, area, { l: 45, t: 18, r: 24, b: 28 }, {
    type: 'scatter',
    data: { datasets: [
      { data: toXY(pts7200), pointRadius: 3, backgroundColor: GREEN, borderWidth: 0, order: ecOnTop ? 2 : 0 },
      { data: toXY(ptsEC), pointRadius: 3.6, backgroundColor: 'rgba(0,0,0,0)', borderColor: RED, borderWidth: 1, order: ecOnTop ? 0 : 1 },
      { data: [{ x: lo, y: lo }, { x: hi, y: hi }], showLine: true, pointRadius: 0, borderColor: '#000', borderWidth: 1, order: 3 }
    ] },
    plugins: [framePlugin],
    options: {
      layout: { padding: { top: 18, right: 24, left: 0, bottom: 0 } },
      plugins: { legend: { display: false }, tooltip: { enabled: false }, frame: { mode: 'box' } },
      scales: {
        x: {
          type: 'linear', min: lo, max: hi,
          afterBuildTicks: fixTicks(ticks), afterFit: s => { s.height = 28; },
          ticks: { padding: 6, maxRotation: 0, autoSkip: false, callback: minus },
          grid: { color: GRID, drawTicks: false }, border: { display: false, dash: [1, 3] }
        },
        y: {
          min: lo, max: hi,
          afterBuildTicks: fixTicks(ticks), afterFit: s => { s.width = 45; },
          ticks: { padding: 5, autoSkip: false, callback: minus },
          grid: { color: GRID, drawTicks: false }, border: { display: false, dash: [1, 3] }
        }
      }
    }
  });
}

function boxChart(id, area, m, xMin, xMax, xTicks, names, outliers, stats, labelGap) {
  const rows = names.length;
  const yTicks = [];
  for (let k = 1; k <= rows; k++) { yTicks.push(k); if (k < rows) yTicks.push(k + 0.5); }
  const datasets = outliers.map((vals, i) => ({
    data: vals.map(v => ({ x: v, y: i + 1 })),
    pointStyle: 'star', pointRadius: 4.2, borderColor: '#000', borderWidth: 1, backgroundColor: '#000'
  }));
  return mount(id, area, m, {
    type: 'scatter',
    data: { datasets },
    plugins: [boxPlugin, framePlugin],
    options: {
      layout: { padding: { top: m.t, left: m.l, right: 0, bottom: 0 } },
      plugins: { legend: { display: false }, tooltip: { enabled: false }, frame: { mode: 'lines' }, boxes: { stats } },
      scales: {
        x: {
          type: 'linear', min: xMin, max: xMax,
          afterBuildTicks: fixTicks(xTicks), afterFit: s => { s.height = m.b; },
          ticks: { padding: 7, maxRotation: 0, autoSkip: false, callback: minus },
          grid: { color: GRID, drawTicks: false }, border: { display: false, dash: [1, 3] }
        },
        y: {
          type: 'linear', position: 'right', reverse: true, min: 0.5, max: rows + 0.5,
          afterBuildTicks: fixTicks(yTicks), afterFit: s => { s.width = m.r; },
          // labels pushed right by an invisible tick mark (ticks.padding would also pad the plot vertically)
          ticks: { padding: 0, autoSkip: false, font: { size: 16, weight: 'bold' },
                   callback: v => Number.isInteger(v) ? names[v - 1] : '' },
          grid: { drawTicks: true, tickLength: labelGap, tickColor: 'rgba(0,0,0,0)',
                  color: c => (c.tick && !Number.isInteger(c.tick.value)) ? GRID : 'rgba(0,0,0,0)' },
          border: { display: false, dash: [1, 3] }
        }
      }
    }
  });
}

/* ======= Start ======= */
seriesChart('fcSeries', 17, fcEC155, fcLI6262, fcLI7200, -8, 4, [-8,-6,-4,-2,0,2,4]);
seriesChart('leSeries', 833, leEC155, leLI6262, leLI7200, -50, 350, [-50,0,50,100,150,200,250,300,350]);

scatterChart('fcScatter', 403, fcScatterTicks, fcScatter7200, fcScatterEC155, false);
scatterChart('leScatter', 1218, leScatterTicks, leScatter7200, leScatterEC155, true);

boxChart('fcBox', { l: 495, t: 434, r: 812, b: 638 }, { l: 20, t: 14, r: 176, b: 28 },
  -7.37, 3.65, fcBoxTicks, fcBoxNames, fcOutliers,
  { q1: fcBoxQ1, med: fcBoxMed, q3: fcBoxQ3, nlo: fcNotchLo, nhi: fcNotchHi, lo: fcWhiskLo, hi: fcWhiskHi }, 32);
boxChart('leBox', { l: 494, t: 1250, r: 807, b: 1453 }, { l: 30, t: 14, r: 183, b: 28 },
  -100, 200, leBoxTicks, leBoxNames, leOutliers,
  { q1: leBoxQ1, med: leBoxMed, q3: leBoxQ3, nlo: leNotchLo, nhi: leNotchHi, lo: leWhiskLo, hi: leWhiskHi }, 37);
</script>
</body>
</html>
